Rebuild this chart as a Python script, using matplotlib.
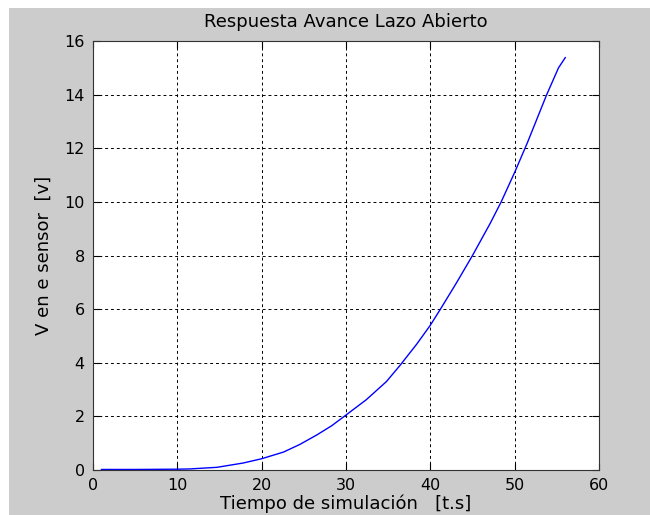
import numpy as np
import matplotlib
matplotlib.use('Agg')
import matplotlib.pyplot as plt
from matplotlib.patches import Rectangle

# curve
t_sim = [1.0, 5.0, 10.0, 11.5, 14.7, 17.8, 20.0, 22.6, 24.5, 26.5, 28.3, 30.0,
         32.4, 34.8, 36.4, 38.4, 40.0, 41.2, 43.1, 45.0, 47.1, 48.4, 50.0,
         51.5, 53.8, 55.2, 56.0]
v_sensor = [0.02, 0.02, 0.03, 0.04, 0.10, 0.26, 0.42, 0.67, 0.95, 1.30, 1.65,
            2.05, 2.62, 3.30, 3.90, 4.70, 5.40, 6.00, 6.98, 8.00, 9.20, 10.00,
            11.10, 12.20, 14.00, 15.00, 15.38]

xticks = [0, 10, 20, 30, 40, 50, 60]
yticks = [0, 2, 4, 6, 8, 10, 12, 14, 16]

W, H = 650, 515
fig = plt.figure(figsize=(W / 100, H / 100), dpi=100, facecolor='#cccccc')

# white screenshot margin on the left and top
fig.patches.append(Rectangle((0, 0), 9 / W, 1, transform=fig.transFigure,
                             facecolor='white', edgecolor='none', zorder=0))
fig.patches.append(Rectangle((0, 1 - 8 / H), 1, 8 / H, transform=fig.transFigure,
                             facecolor='white', edgecolor='none', zorder=0))

ax = fig.add_axes([93 / W, 1 - 470 / H, (599 - 93) / W, (470 - 41) / H])
ax.set_facecolor('white')

ax.plot(t_sim, v_sensor, color='#0000ff', linewidth=1.0)

ax.set_xlim(0, 60)
ax.set_ylim(0, 16)
ax.set_xticks(xticks)
ax.set_yticks(yticks)

ax.grid(True, color='black', linestyle=(0, (3, 3)), linewidth=0.7)
ax.tick_params(axis='both', direction='in', length=5, width=0.8,
               top=True, right=True, labelsize=11.5, pad=6)

for s in ax.spines.values():
    s.set_linewidth(0.8)
    s.set_color('#333333')

ax.set_title('Respuesta Avance Lazo Abierto', fontsize=13, pad=10)
ax.set_xlabel('Tiempo de simulación   [t.s]', fontsize=13, labelpad=1)
ax.set_ylabel('V en e sensor  [v]', fontsize=13, labelpad=8)

fig.savefig('out.png', dpi=100, facecolor=fig.get_facecolor())
